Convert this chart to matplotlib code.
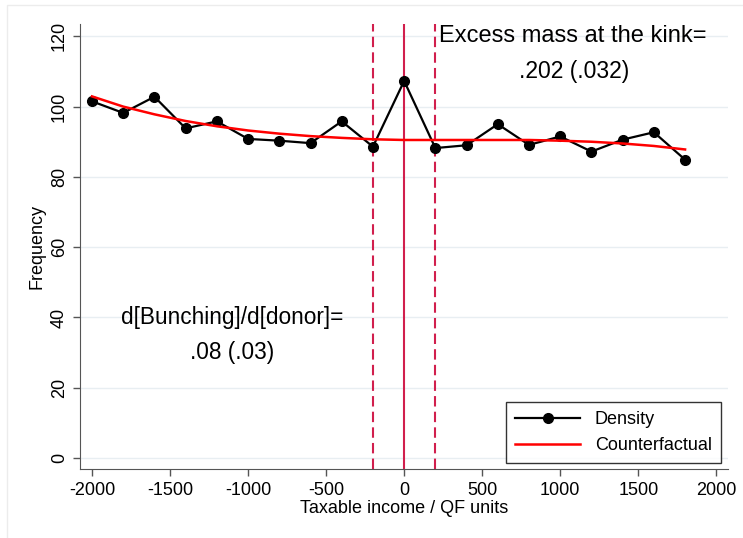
import matplotlib
matplotlib.use("Agg")
import matplotlib.pyplot as plt
from matplotlib.patches import Rectangle

plt.rcParams['font.family'] = ['Liberation Sans', 'DejaVu Sans']
plt.rcParams['axes.unicode_minus'] = False

# binned income relative to kink (QF units)
bins = [-2000, -1800, -1600, -1400, -1200, -1000, -800, -600, -400, -200,
        0, 200, 400, 600, 800, 1000, 1200, 1400, 1600, 1800]
density = [101.5, 98.2, 102.8, 93.8, 95.8, 90.8, 90.3, 89.6, 95.8, 88.6,
           107.3, 88.2, 89.0, 95.0, 89.1, 91.5, 87.2, 90.6, 92.7, 84.9]
counterfactual = [102.9, 100.0, 97.8, 95.9, 94.4, 93.2, 92.3, 91.6, 91.1, 90.7,
                  90.5, 90.5, 90.5, 90.5, 90.5, 90.3, 90.0, 89.5, 88.8, 87.8]
kink = 0
window = [-200, 200]
xticks = [-2000, -1500, -1000, -500, 0, 500, 1000, 1500, 2000]
yticks = [0, 20, 40, 60, 80, 100, 120]

fig = plt.figure(figsize=(7.43, 5.38), dpi=100)
# faint outer graph-region border
fig.patches.append(Rectangle((7 / 743, -0.05), 1.2, (538 - 5) / 538 + 0.05,
                             transform=fig.transFigure, fill=False,
                             edgecolor="#ececec", linewidth=1))
ax = fig.add_axes([80.3 / 743, (538 - 469.3) / 538, (728 - 80.3) / 743, (469.3 - 24) / 538])

grey = "#555555"
vcol = "#d11f4d"
for y in yticks:
    ax.axhline(y, color="#e8eef2", linewidth=1, zorder=0)

ax.axvline(kink, color=vcol, linewidth=1.5, zorder=1)
for w in window:
    ax.axvline(w, color=vcol, linewidth=1.5, linestyle=(0, (5, 2.5)), zorder=1)

ax.plot(bins, density, color="black", linewidth=1.6, marker="o", markersize=7,
        label="Density", zorder=3)
ax.plot(bins, counterfactual, color="red", linewidth=1.8, label="Counterfactual", zorder=4)

ax.set_xlim(-2075, 2075)
ax.set_ylim(-3.2, 123.5)
ax.set_xticks(xticks)
ax.set_yticks(yticks)
ax.set_yticklabels([str(y) for y in yticks], rotation=90, va="center")
ax.tick_params(axis="both", colors=grey, labelcolor="black", labelsize=13,
               length=5, width=1, pad=4)
ax.spines['top'].set_visible(False)
ax.spines['right'].set_visible(False)
ax.spines['left'].set_color(grey)
ax.spines['bottom'].set_color(grey)
ax.set_xlabel("Taxable income / QF units", fontsize=13, labelpad=1)
ax.set_ylabel("Frequency", fontsize=13, labelpad=4)

ax.text(1080, 120, "Excess mass at the kink=", ha="center", va="center", fontsize=17)
ax.text(1090, 110, ".202 (.032)", ha="center", va="center", fontsize=16.5)
ax.text(-1105, 40, "d[Bunching]/d[donor]=", ha="center", va="center", fontsize=16.3)
ax.text(-1105, 30, ".08 (.03)", ha="center", va="center", fontsize=16.3)

leg = ax.legend(loc="lower right", bbox_to_anchor=(0.9888, 0.014), borderaxespad=0,
                fontsize=13, frameon=True, fancybox=False, edgecolor="black",
                handlelength=3.6, handletextpad=0.8, borderpad=0.5, labelspacing=0.5)
leg.get_frame().set_linewidth(1)

fig.savefig("out.png", dpi=100)
